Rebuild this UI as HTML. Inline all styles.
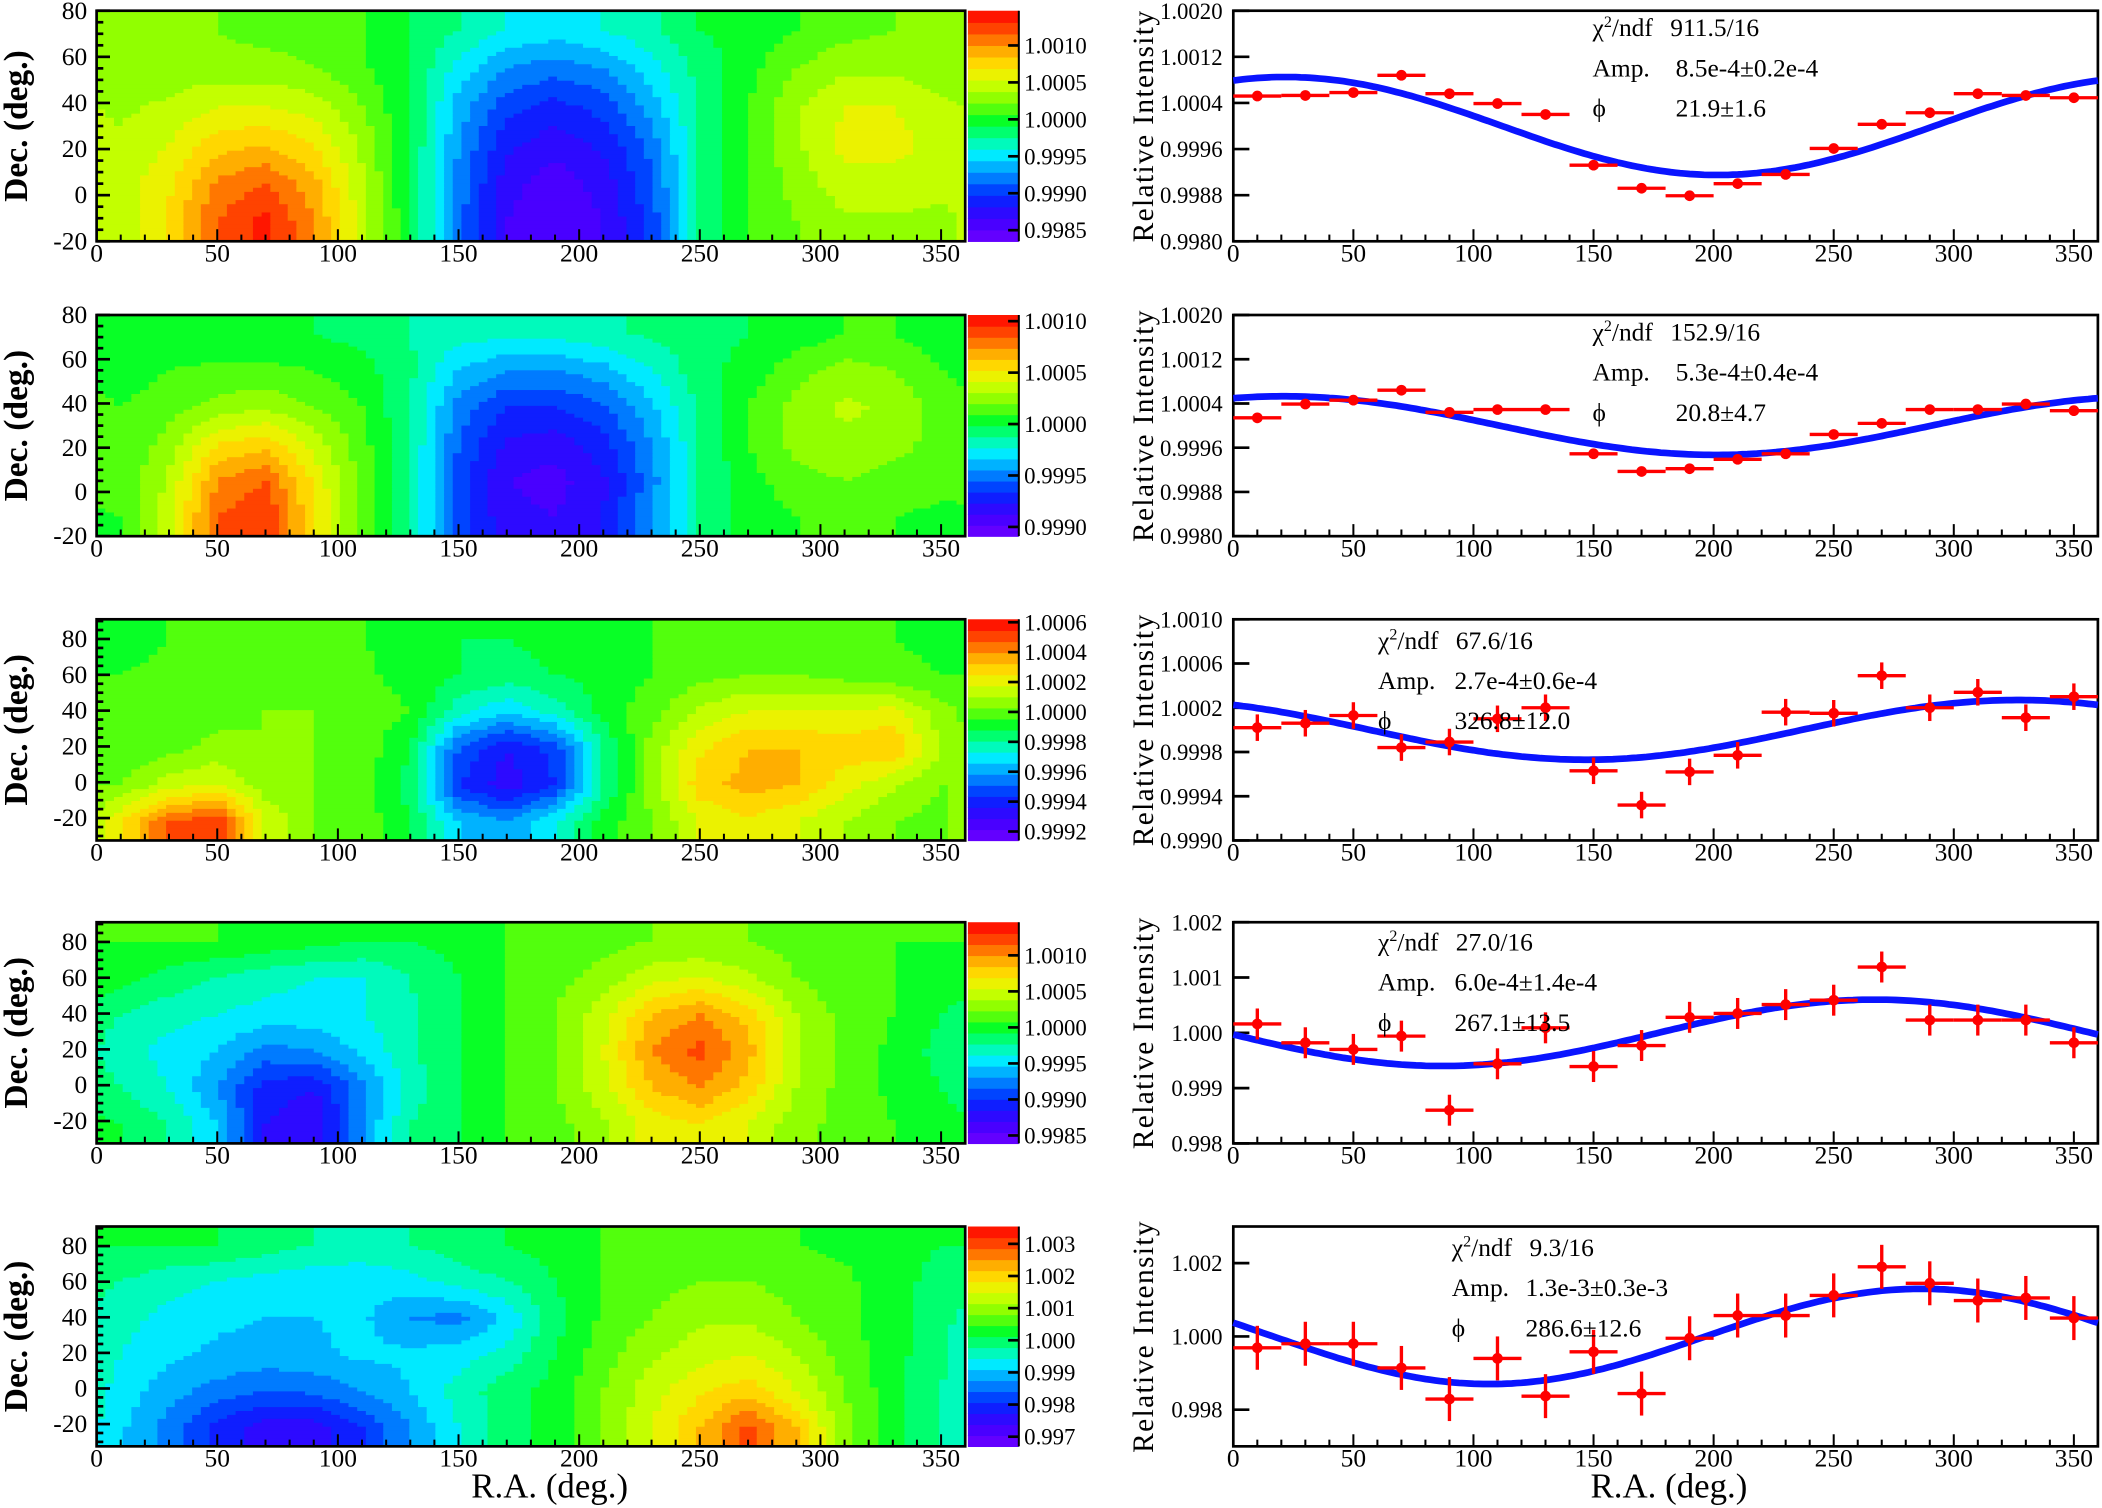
<!DOCTYPE html>
<html><head><meta charset="utf-8">
<style>
html,body{margin:0;padding:0;background:#fff;}
svg{display:block;}
text{font-family:"Liberation Serif",serif;fill:#000;}
</style></head>
<body>
<svg id="fig" width="2102" height="1508" viewBox="0 0 1568 1125" xmlns="http://www.w3.org/2000/svg"></svg>
<script>
// ---------- DATA ----------
const raBins = [10,30,50,70,90,110,130,150,170,190,210,230,250,270,290,310,330,350];
const int1 = [1.00052,1.00053,1.00058,1.00088,1.00056,1.00039,1.00020,0.99932,0.99892,0.99879,0.99900,0.99916,0.99961,1.00003,1.00023,1.00056,1.00053,1.00049];
const int2 = [1.00014,1.00039,1.00046,1.00064,1.00024,1.00029,1.00029,0.99949,0.99917,0.99922,0.99939,0.99949,0.99984,1.00004,1.00029,1.00029,1.00039,1.00027];
const int3 = [1.00002,1.00006,1.00013,0.99984,0.99989,1.00010,1.00020,0.99963,0.99932,0.99962,0.99977,1.00016,1.00015,1.00049,1.00020,1.00034,1.00011,1.00030];
const int4 = [1.00016,0.99982,0.99970,0.99994,0.99860,0.99944,1.00009,0.99939,0.99977,1.00028,1.00035,1.00051,1.00059,1.00119,1.00023,1.00023,1.00023,0.99982];
const int5 = [0.99969,0.99980,0.99980,0.99914,0.99829,0.99940,0.99837,0.99958,0.99844,0.99995,1.00057,1.00057,1.00112,1.00190,1.00145,1.00098,1.00105,1.00050];
const errs = [0.00001,0.00001,0.00012,0.00028,0.0006];
const amps = [8.5e-4,5.3e-4,2.7e-4,6.0e-4,1.3e-3];
const phases = [21.9,20.8,326.8,267.1,286.6];
const chiText = ["911.5/16","152.9/16","67.6/16","27.0/16","9.3/16"];
const ampText = ["8.5e-4\u00b10.2e-4","5.3e-4\u00b10.4e-4","2.7e-4\u00b10.6e-4","6.0e-4\u00b11.4e-4","1.3e-3\u00b10.3e-3"];
const phiText = ["21.9\u00b11.6","20.8\u00b14.7","326.8\u00b112.0","267.1\u00b113.5","286.6\u00b112.6"];
const yTicksR1 = ["0.9980","0.9988","0.9996","1.0004","1.0012","1.0020"];
const yTicksR3 = ["0.9990","0.9994","0.9998","1.0002","1.0006","1.0010"];
const yTicksR4 = ["0.998","0.999","1.000","1.001","1.002"];
const yTicksR5 = ["0.998","1.000","1.002"];
const cbTicks1 = ["0.9985","0.9990","0.9995","1.0000","1.0005","1.0010"];
const cbTicks2 = ["0.9990","0.9995","1.0000","1.0005","1.0010"];
const cbTicks3 = ["0.9992","0.9994","0.9996","0.9998","1.0000","1.0002","1.0004","1.0006"];
const cbTicks4 = ["0.9985","0.9990","0.9995","1.0000","1.0005","1.0010"];
const cbTicks5 = ["0.997","0.998","0.999","1.000","1.001","1.002","1.003"];
const xTicks = [0,50,100,150,200,250,300,350];
const decTicks = [-20,0,20,40,60,80];
// heatmap grids (normalized colour level 0..1), rows top->bottom, 18 RA columns
const heat1 = [
[0.6,0.6,0.6,0.58,0.58,0.55,0.5,0.45,0.4,0.38,0.4,0.44,0.5,0.52,0.55,0.58,0.6,0.6],
[0.62,0.62,0.62,0.62,0.6,0.56,0.5,0.38,0.3,0.27,0.3,0.38,0.47,0.53,0.6,0.64,0.64,0.62],
[0.64,0.66,0.7,0.7,0.68,0.6,0.5,0.33,0.22,0.18,0.22,0.32,0.46,0.55,0.64,0.7,0.7,0.66],
[0.66,0.7,0.78,0.8,0.75,0.64,0.5,0.3,0.16,0.12,0.16,0.27,0.45,0.55,0.64,0.72,0.72,0.68],
[0.67,0.74,0.86,0.9,0.82,0.66,0.5,0.28,0.12,0.07,0.12,0.24,0.45,0.55,0.62,0.68,0.68,0.66],
[0.67,0.76,0.9,0.97,0.85,0.68,0.5,0.27,0.1,0.05,0.1,0.22,0.45,0.55,0.6,0.64,0.64,0.64]];
const heat2 = [
[0.5,0.52,0.52,0.52,0.5,0.48,0.45,0.42,0.42,0.42,0.44,0.46,0.48,0.5,0.52,0.55,0.55,0.52],
[0.52,0.55,0.56,0.56,0.55,0.52,0.46,0.35,0.3,0.3,0.33,0.4,0.48,0.52,0.58,0.62,0.6,0.55],
[0.55,0.58,0.62,0.64,0.6,0.55,0.45,0.28,0.2,0.2,0.24,0.34,0.46,0.55,0.62,0.66,0.64,0.58],
[0.56,0.62,0.75,0.78,0.68,0.57,0.45,0.25,0.14,0.12,0.18,0.3,0.45,0.55,0.62,0.64,0.62,0.58],
[0.56,0.66,0.85,0.9,0.74,0.58,0.45,0.22,0.1,0.08,0.14,0.28,0.45,0.53,0.58,0.6,0.58,0.56],
[0.55,0.68,0.9,0.95,0.76,0.58,0.45,0.22,0.12,0.1,0.15,0.3,0.45,0.52,0.55,0.56,0.55,0.54]];
const heat3 = [
[0.53,0.55,0.55,0.56,0.55,0.55,0.53,0.5,0.5,0.52,0.53,0.55,0.56,0.58,0.56,0.55,0.55,0.54],
[0.55,0.56,0.56,0.57,0.56,0.56,0.53,0.5,0.48,0.5,0.52,0.55,0.58,0.6,0.6,0.58,0.56,0.55],
[0.56,0.56,0.58,0.6,0.6,0.58,0.55,0.42,0.36,0.42,0.52,0.58,0.66,0.7,0.7,0.7,0.72,0.62],
[0.56,0.58,0.62,0.6,0.6,0.58,0.5,0.25,0.15,0.22,0.45,0.62,0.74,0.8,0.8,0.78,0.8,0.65],
[0.6,0.68,0.7,0.62,0.6,0.58,0.48,0.2,0.12,0.2,0.45,0.62,0.78,0.82,0.8,0.72,0.66,0.6],
[0.75,0.9,0.95,0.7,0.6,0.58,0.5,0.35,0.3,0.4,0.52,0.6,0.7,0.74,0.7,0.65,0.6,0.58]];
const heat4 = [
[0.55,0.55,0.55,0.54,0.52,0.5,0.5,0.52,0.55,0.56,0.58,0.6,0.6,0.6,0.58,0.56,0.55,0.55],
[0.52,0.48,0.45,0.42,0.4,0.4,0.45,0.5,0.55,0.58,0.62,0.68,0.7,0.66,0.6,0.56,0.55,0.54],
[0.45,0.42,0.4,0.38,0.38,0.4,0.44,0.5,0.55,0.6,0.68,0.8,0.85,0.78,0.65,0.58,0.55,0.5],
[0.42,0.38,0.35,0.28,0.3,0.36,0.44,0.5,0.55,0.6,0.7,0.85,0.92,0.82,0.66,0.58,0.54,0.48],
[0.45,0.4,0.3,0.18,0.15,0.28,0.42,0.5,0.55,0.6,0.68,0.8,0.85,0.78,0.65,0.58,0.54,0.5],
[0.5,0.45,0.35,0.15,0.1,0.3,0.45,0.5,0.55,0.58,0.64,0.72,0.75,0.7,0.62,0.58,0.55,0.52]];
const heat5 = [
[0.5,0.5,0.5,0.48,0.45,0.44,0.45,0.48,0.5,0.52,0.55,0.56,0.56,0.55,0.55,0.54,0.52,0.5],
[0.45,0.42,0.4,0.38,0.36,0.36,0.38,0.42,0.45,0.5,0.55,0.58,0.6,0.6,0.58,0.56,0.52,0.48],
[0.42,0.38,0.36,0.35,0.35,0.36,0.3,0.28,0.36,0.48,0.56,0.6,0.64,0.64,0.6,0.56,0.52,0.46],
[0.4,0.36,0.34,0.33,0.34,0.36,0.36,0.38,0.42,0.5,0.58,0.64,0.68,0.7,0.65,0.58,0.52,0.46],
[0.38,0.32,0.28,0.25,0.26,0.3,0.35,0.42,0.48,0.52,0.6,0.68,0.74,0.78,0.7,0.6,0.52,0.45],
[0.36,0.28,0.18,0.12,0.12,0.2,0.3,0.4,0.48,0.52,0.6,0.7,0.8,0.92,0.8,0.62,0.52,0.45]];

// ---------- LAYOUT ----------
const NS="http://www.w3.org/2000/svg";
const svg=document.getElementById('fig');
function el(tag,attrs,parent){const e=document.createElementNS(NS,tag);for(const k in attrs)e.setAttribute(k,attrs[k]);(parent||svg).appendChild(e);return e;}
const panels=[
 {top:8,bot:180,heat:heat1,decMin:-20,decMax:80,cbMin:0.99835,cbMax:1.00147,cbT:cbTicks1,yMin:0.9980,yMax:1.0020,yT:yTicksR1,ints:int1,stx:1188,sty:20,vx:1250},
 {top:235,bot:400,heat:heat2,decMin:-20,decMax:80,cbMin:0.99891,cbMax:1.00106,cbT:cbTicks2,yMin:0.9980,yMax:1.0020,yT:yTicksR1,ints:int2,stx:1188,sty:247,vx:1250},
 {top:462,bot:627,heat:heat3,decMin:-32.5,decMax:91,cbMin:0.99914,cbMax:1.00062,cbT:cbTicks3,yMin:0.9990,yMax:1.0010,yT:yTicksR3,ints:int3,stx:1028,sty:477,vx:1085},
 {top:688,bot:853,heat:heat4,decMin:-32.5,decMax:91,cbMin:0.99839,cbMax:1.00146,cbT:cbTicks4,yMin:0.998,yMax:1.002,yT:yTicksR4,ints:int4,stx:1028,sty:702,vx:1085},
 {top:915,bot:1079,heat:heat5,decMin:-32.5,decMax:91,cbMin:0.9967,cbMax:1.00354,cbT:cbTicks5,yMin:0.997,yMax:1.003,yT:yTicksR5,ints:int5,stx:1083,sty:930,vx:1138}];
const HX0=72,HX1=720,CB0=722,CB1=760,RX0=920,RX1=1565;
const stops=[[0,[112,0,255]],[0.1,[60,0,255]],[0.2,[0,40,255]],[0.3,[0,150,255]],[0.38,[0,240,255]],[0.45,[0,255,150]],[0.52,[0,255,40]],[0.6,[120,255,0]],[0.68,[200,255,0]],[0.75,[255,235,0]],[0.83,[255,170,0]],[0.91,[255,80,0]],[1,[255,0,0]]];
function pal(t){t=Math.max(0,Math.min(1,t));for(let i=1;i<stops.length;i++){if(t<=stops[i][0]){const a=stops[i-1],b=stops[i],f=(t-a[0])/(b[0]-a[0]);const c=a[1].map((v,j)=>Math.round(v+(b[1][j]-v)*f));return `rgb(${c[0]},${c[1]},${c[2]})`;}}return 'rgb(255,0,0)';}
const NL=20;
function q(t){return (Math.min(NL-1,Math.max(0,Math.floor(t*NL)))+0.5)/NL;}
function gridVal(g,fx,fy){
 const nc=g[0].length,nr=g.length;
 let gx=fx*nc-0.5,gy=fy*nr-0.5; gy=Math.max(0,Math.min(nr-1,gy));
 const x0=Math.floor(gx),xf=gx-x0,y0=Math.floor(gy),yf=gy-y0,y1=Math.min(nr-1,y0+1);
 const a=(x0%nc+nc)%nc,b=(a+1)%nc;
 return (g[y0][a]*(1-xf)+g[y0][b]*xf)*(1-yf)+(g[y1][a]*(1-xf)+g[y1][b]*xf)*yf;
}
function txt(x,y,s,size,anchor,parent,name,extra){const t=el('text',Object.assign({x:x,y:y,'font-size':size,'text-anchor':anchor||'start'},extra||{}),parent);t.textContent=s;return t;}

panels.forEach((p,pi)=>{
 const g=el('g',{});
 
 
 const H=p.bot-p.top;
 const NC=100,NR=56,cw=(HX1-HX0)/NC,ch=H/NR;
 for(let r=0;r<NR;r++){
  let runStart=0,runCol=null;
  for(let c=0;c<=NC;c++){
   let col=null;
   if(c<NC){col=pal(q(gridVal(p.heat,(c+0.5)/NC,(r+0.5)/NR)));}
   if(col!==runCol){
    if(runCol!==null){const rc=el('rect',{x:HX0+runStart*cw,y:p.top+r*ch,width:(c-runStart)*cw+0.4,height:ch+0.4,fill:runCol},g);
     
     }
    runStart=c;runCol=col;
   }
  }
 }
 const fr=el('rect',{x:HX0,y:p.top,width:HX1-HX0,height:H,fill:'none',stroke:'#000','stroke-width':2},g);
 
 
 const xs=v=>HX0+(v/360)*(HX1-HX0);
 for(let v=0;v<=360;v+=10){const L=v%50==0?9:5;el('line',{x1:xs(v),x2:xs(v),y1:p.bot,y2:p.bot-L,stroke:'#000','stroke-width':1.5},g);}
 xTicks.forEach(v=>txt(xs(v),p.bot+15,String(v),19,'middle',g,'ra-tick-label'));
 const ys=d=>p.bot-(d-p.decMin)/(p.decMax-p.decMin)*H;
 for(let d=-30;d<=90;d+=5){if(d<p.decMin||d>p.decMax)continue;const L=d%20==0?10:5;el('line',{x1:HX0,x2:HX0+L,y1:ys(d),y2:ys(d),stroke:'#000','stroke-width':2},g);}
 decTicks.forEach(d=>txt(65,ys(d)+6,String(d),19,'end',g,'dec-tick-label'));
 txt(0,0,'Dec. (deg.)',25,'middle',g,'dec-axis-title',{transform:`translate(20,${(p.top+p.bot)/2}) rotate(-90)`,'font-weight':'bold'});
 for(let k=0;k<NL;k++){const y1=p.bot-(k+1)*H/NL;const r=el('rect',{x:CB0,y:y1,width:CB1-CB0,height:H/NL+0.5,fill:pal((k+0.5)/NL)},g);
  
  }
 el('line',{x1:CB1,x2:CB1,y1:p.top,y2:p.bot,stroke:'#000','stroke-width':1.5},g);
 const cy=v=>p.bot-(v-p.cbMin)/(p.cbMax-p.cbMin)*H;
 p.cbT.forEach(s=>{const y=cy(parseFloat(s));el('line',{x1:CB1-8,x2:CB1,y1:y,y2:y,stroke:'#000','stroke-width':2},g);txt(764,y+6,s,17,'start',g,'colorbar-tick-label');});

 const gr=el('g',{});
 
 
 const rx=v=>RX0+(v/360)*(RX1-RX0);
 const ry=v=>p.bot-(v-p.yMin)/(p.yMax-p.yMin)*H;
 const f2=el('rect',{x:RX0,y:p.top,width:RX1-RX0,height:H,fill:'none',stroke:'#000','stroke-width':2},gr);
 
 
 for(let v=0;v<=360;v+=10){const L=v%50==0?9:5;el('line',{x1:rx(v),x2:rx(v),y1:p.bot,y2:p.bot-L,stroke:'#000','stroke-width':1.5},gr);}
 xTicks.forEach(v=>txt(rx(v),p.bot+15,String(v),19,'middle',gr,'ra-tick-label'));
 p.yT.forEach(s=>{const y=ry(parseFloat(s));el('line',{x1:RX0,x2:RX0+12,y1:y,y2:y,stroke:'#000','stroke-width':2},gr);txt(912,y+6,s,17,'end',gr,'intensity-tick-label');});
 txt(0,0,'Relative Intensity',22,'middle',gr,'intensity-axis-title',{transform:`translate(860,${(p.top+p.bot)/2}) rotate(-90)`,'letter-spacing':'1'});
 let d='';
 for(let a=0;a<=360;a+=2){const v=1+amps[pi]*Math.cos((a-phases[pi])*Math.PI/180);d+=(a?'L':'M')+rx(a).toFixed(1)+','+ry(v).toFixed(1);}
 const cv=el('path',{d:d,fill:'none',stroke:'#0a14ff','stroke-width':5},gr);
 
 
 raBins.forEach((ra,i)=>{
  const v=p.ints[i],e=errs[pi];
  const pg=el('g',{},gr);
  
  
  el('line',{x1:rx(ra-10),x2:rx(ra+10),y1:ry(v),y2:ry(v),stroke:'#f00','stroke-width':2.5},pg);
  el('line',{x1:rx(ra),x2:rx(ra),y1:ry(v-e),y2:ry(v+e),stroke:'#f00','stroke-width':2.5},pg);
  el('circle',{cx:rx(ra),cy:ry(v),r:4,fill:'#f00'},pg);
 });
 const t1=txt(p.stx,p.sty+7,'',19,'start',gr,'chi2-label');
 t1.innerHTML='\u03c7<tspan dy="-7" font-size="12">2</tspan><tspan dy="7">/ndf</tspan>';
 txt(p.stx+58,p.sty+7,chiText[pi],19,'start',gr,'chi2-value');
 txt(p.stx,p.sty+37,'Amp.',19,'start',gr,'amp-label');
 txt(p.vx,p.sty+37,ampText[pi],19,'start',gr,'amp-value');
 txt(p.stx,p.sty+67,'\u03d5',19,'start',gr,'phase-label');
 txt(p.vx,p.sty+67,phiText[pi],19,'start',gr,'phase-value');
});
txt(410,1117,'R.A. (deg.)',26,'middle',svg,'ra-axis-title-left');
txt(1245,1117,'R.A. (deg.)',26,'middle',svg,'ra-axis-title-right');
</script>
</body></html>
